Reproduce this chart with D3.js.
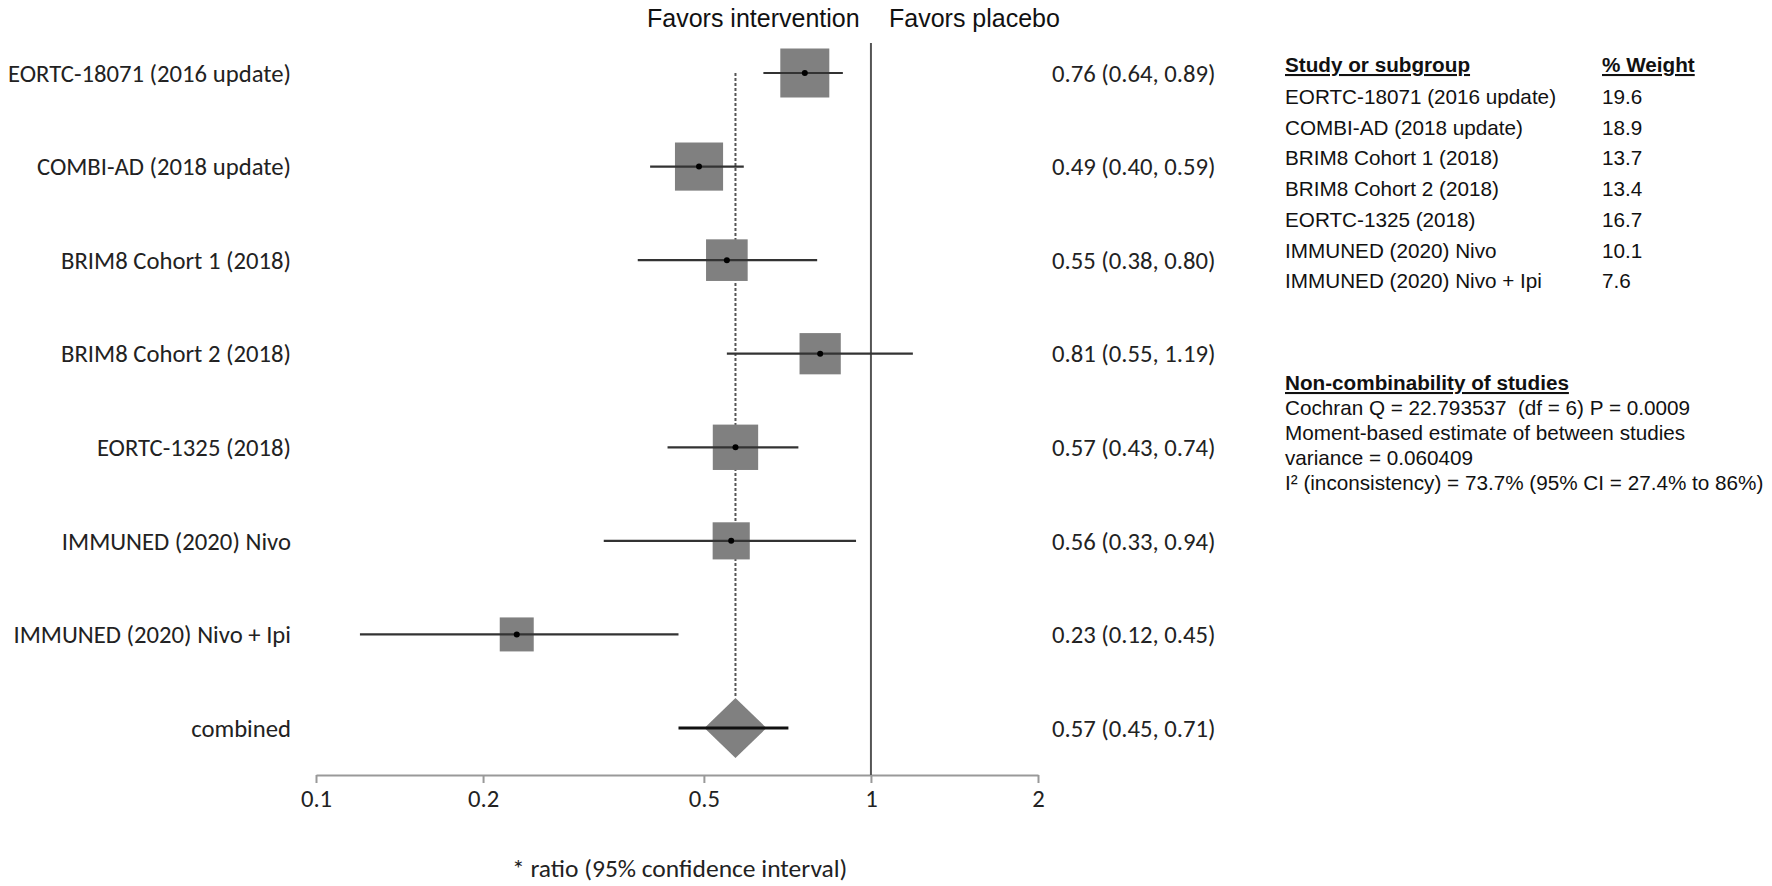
<!DOCTYPE html>
<html>
<head>
<meta charset="utf-8">
<script src="https://cdn.jsdelivr.net/npm/d3@7"></script>
<style>
  body { margin: 0; background: #fff; }
  svg { display: block; }
</style>
</head>
<body>
<div id="forest"></div>
<script>
(function(){

    // data
    var studies = ["EORTC-18071 (2016 update)", "COMBI-AD (2018 update)", "BRIM8 Cohort 1 (2018)",
                   "BRIM8 Cohort 2 (2018)", "EORTC-1325 (2018)", "IMMUNED (2020) Nivo", "IMMUNED (2020) Nivo + Ipi"];
    var ratios  = [0.76, 0.49, 0.55, 0.81, 0.57, 0.56, 0.23];
    var lower   = [0.64, 0.40, 0.38, 0.55, 0.43, 0.33, 0.12];
    var upper   = [0.89, 0.59, 0.80, 1.19, 0.74, 0.94, 0.45];
    var weights = [19.6, 18.9, 13.7, 13.4, 16.7, 10.1, 7.6];
    var combined = {label: "combined", ratio: 0.57, lower: 0.45, upper: 0.71};
    var tickValues = [0.1, 0.2, 0.5, 1, 2];
    var statsLines = ["Cochran Q = 22.793537  (df = 6) P = 0.0009",
                      "Moment-based estimate of between studies",
                      "variance = 0.060409",
                      "I\u00b2 (inconsistency) = 73.7% (95% CI = 27.4% to 86%)"];

    var chart = {
        width: 1772,
        height: 886,
        top: 73,
        bottom: 728,
        axisY: 775,
        labelRight: 291,
        ciTextX: 1052,
        tableX: 1285,
        weightX: 1602
    };

    var calibri = "Carlito, Lato, sans-serif";
    var arial = "'Liberation Sans', Arial, sans-serif";
    var fs = "24.7px";

    var svg = d3.select("#forest")
        .append("svg")
        .attr("width", chart.width)
        .attr("height", chart.height);

    var x = d3.scaleLog()
        .domain([0.1, 2])
        .range([316, 1038]);

    var y = d3.scalePoint()
        .domain(studies.concat([combined.label]))
        .range([chart.top, chart.bottom]);

    /* box size from % weight */
    var boxSize = d3.scaleLinear()
        .domain([7.6, 19.6])
        .range([34, 49]);

    var data = studies.map(function(s, i){
        return {study: s, ratio: ratios[i], lower: lower[i], upper: upper[i], weight: weights[i]};
    });

    /* header */
    svg.append("text")
        .attr("x", 647).attr("y", 27)
        .text("Favors intervention")
        .style("font-family", arial).style("font-size", "25px").style("fill", "#111");
    svg.append("text")
        .attr("x", 889).attr("y", 27)
        .text("Favors placebo")
        .style("font-family", arial).style("font-size", "25px").style("fill", "#111");

    /* axis */
    var axis = svg.append("g")
        .attr("transform", "translate(0," + chart.axisY + ")")
        .call(d3.axisBottom(x)
            .tickValues(tickValues)
            .tickFormat(function(d){ return String(d); })
            .tickSize(8)
            .tickSizeOuter(0)
            .tickPadding(6));
    axis.select(".domain").attr("stroke", "#999").attr("stroke-width", 2);
    axis.selectAll(".tick line").attr("stroke", "#999").attr("stroke-width", 2);
    axis.selectAll(".tick text")
        .style("font-family", calibri).style("font-size", fs).style("fill", "#222");

    /* line of no effect */
    svg.append("line")
        .attr("x1", x(1)).attr("x2", x(1))
        .attr("y1", 43).attr("y2", chart.axisY)
        .attr("stroke", "#555").attr("stroke-width", 2);

    /* pooled estimate dotted line */
    var dHalfW = 31, dHalfH = 30;
    svg.append("line")
        .attr("x1", x(combined.ratio)).attr("x2", x(combined.ratio))
        .attr("y1", y(studies[0])).attr("y2", y(combined.label) - dHalfH)
        .attr("stroke", "#555").attr("stroke-width", 2)
        .attr("stroke-dasharray", "3,2");

    /* study rows */
    var row = svg.selectAll("g.study")
        .data(data)
        .enter()
        .append("g")
        .attr("class", "study")
        .attr("transform", function(d){ return "translate(0," + y(d.study) + ")"; });

    row.append("rect")
        .attr("x", function(d){ return x(d.ratio) - boxSize(d.weight) / 2; })
        .attr("y", function(d){ return -boxSize(d.weight) / 2; })
        .attr("width", function(d){ return boxSize(d.weight); })
        .attr("height", function(d){ return boxSize(d.weight); })
        .style("fill", "#808080");

    row.append("line")
        .attr("x1", function(d){ return x(d.lower); })
        .attr("x2", function(d){ return x(d.upper); })
        .attr("stroke", "#333").attr("stroke-width", 2.2);

    row.append("circle")
        .attr("cx", function(d){ return x(d.ratio); })
        .attr("r", 3)
        .style("fill", "#000");

    row.append("text")
        .attr("x", chart.labelRight)
        .attr("dy", "0.35em")
        .attr("text-anchor", "end")
        .text(function(d){ return d.study; })
        .style("font-family", calibri).style("font-size", fs).style("fill", "#222");

    row.append("text")
        .attr("x", chart.ciTextX)
        .attr("dy", "0.35em")
        .text(function(d){ return d.ratio.toFixed(2) + " (" + d.lower.toFixed(2) + ", " + d.upper.toFixed(2) + ")"; })
        .style("font-family", calibri).style("font-size", fs).style("fill", "#222");

    /* combined row */
    var cy = y(combined.label), cx = x(combined.ratio);
    svg.append("path")
        .attr("d", "M" + (cx - dHalfW) + "," + cy + "L" + cx + "," + (cy - dHalfH) +
                   "L" + (cx + dHalfW) + "," + cy + "L" + cx + "," + (cy + dHalfH) + "Z")
        .style("fill", "#808080");
    svg.append("line")
        .attr("x1", x(combined.lower)).attr("x2", x(combined.upper))
        .attr("y1", cy).attr("y2", cy)
        .attr("stroke", "#111").attr("stroke-width", 3);
    svg.append("text")
        .attr("x", chart.labelRight).attr("y", cy).attr("dy", "0.35em")
        .attr("text-anchor", "end")
        .text(combined.label)
        .style("font-family", calibri).style("font-size", fs).style("fill", "#222");
    svg.append("text")
        .attr("x", chart.ciTextX).attr("y", cy).attr("dy", "0.35em")
        .text(combined.ratio.toFixed(2) + " (" + combined.lower.toFixed(2) + ", " + combined.upper.toFixed(2) + ")")
        .style("font-family", calibri).style("font-size", fs).style("fill", "#222");

    /* footnote */
    svg.append("text")
        .attr("x", 512).attr("y", 868).attr("dy", "0.35em")
        .text("* ratio (95% confidence interval)")
        .style("font-family", calibri).style("font-size", "25.5px").style("fill", "#222");

    /* weight table */
    var table = svg.append("g").style("font-family", arial).style("font-size", "20.7px").style("fill", "#111");
    table.append("text")
        .attr("x", chart.tableX).attr("y", 72)
        .text("Study or subgroup")
        .style("font-weight", "bold").style("text-decoration", "underline");
    table.append("text")
        .attr("x", chart.weightX).attr("y", 72)
        .text("% Weight")
        .style("font-weight", "bold").style("text-decoration", "underline");

    var tRow = table.selectAll("g.trow")
        .data(data)
        .enter()
        .append("g")
        .attr("class", "trow")
        .attr("transform", function(d, i){ return "translate(0," + (104 + i * 30.7) + ")"; });
    tRow.append("text")
        .attr("x", chart.tableX)
        .text(function(d){ return d.study; });
    tRow.append("text")
        .attr("x", chart.weightX)
        .text(function(d){ return d.weight.toFixed(1); });

    /* heterogeneity */
    table.append("text")
        .attr("x", chart.tableX).attr("y", 390)
        .text("Non-combinability of studies")
        .style("font-weight", "bold").style("text-decoration", "underline");
    table.selectAll("text.stat")
        .data(statsLines)
        .enter()
        .append("text")
        .attr("class", "stat")
        .attr("xml:space", "preserve")
        .attr("x", chart.tableX)
        .attr("y", function(d, i){ return 415 + i * 25; })
        .text(function(d){ return d; });

})();
</script>
</body>
</html>
